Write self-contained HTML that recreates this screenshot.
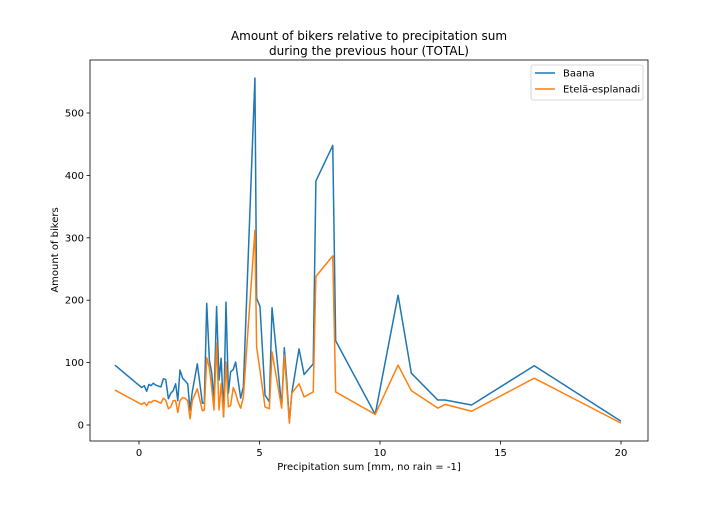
<!DOCTYPE html>
<html><head><meta charset="utf-8"><style>
body{margin:0;background:#fff;}
svg{font-family:"DejaVu Sans","Liberation Sans",sans-serif;}
</style></head><body>
<svg id="chart" width="720" height="504" xmlns="http://www.w3.org/2000/svg">
<rect width="720" height="504" fill="#fff"/>
<text x="369" y="40" text-anchor="middle" font-size="12">Amount of bikers relative to precipitation sum</text>
<text x="369" y="55" text-anchor="middle" font-size="12">during the previous hour (TOTAL)</text>
<g id="plot"></g>
<text x="369" y="470" text-anchor="middle" font-size="10">Precipitation sum [mm, no rain = -1]</text>
<text transform="translate(58,250) rotate(-90)" text-anchor="middle" font-size="10">Amount of bikers</text>
</svg>
<script>
const xs=[-1,0.11,0.22,0.32,0.41,0.5,0.59,0.69,0.91,1.01,1.11,1.22,1.32,1.42,1.52,1.61,1.7,1.81,1.91,2.02,2.12,2.21,2.42,2.63,2.71,2.81,2.92,3.02,3.11,3.22,3.32,3.41,3.51,3.61,3.71,3.8,3.91,4.01,4.11,4.22,4.33,4.81,4.88,5.02,5.23,5.41,5.52,5.92,6.03,6.13,6.24,6.34,6.64,6.85,7.23,7.34,8.04,8.16,9.8,10.75,11.3,12.4,12.7,13.8,16.4,20];
const baana=[96,60,63,54,65,63,67,64,61,74,73,42,51,55,66,39,88,75,71,66,24,53,98,35,35,195,104,83,37,190,72,107,13,197,51,85,89,101,72,43,61,556,203,190,48,37,188,29,124,72,5,51,122,81,98,391,448,135,17,208,83,40,40,32,95,6];
const etela=[56,33,36,31,37,36,39,39,35,43,40,26,29,39,39,20,39,44,43,39,10,39,58,23,24,108,91,59,24,131,24,66,13,101,29,31,60,51,37,27,45,312,125,88,29,26,117,27,112,61,3,51,66,45,53,238,271,53,17,96,55,27,33,22,75,3];
const xTicks=[0,5,10,15,20];
const yTicks=[0,100,200,300,400,500];
const L=90,R=648,T=60,B=441;
function X(v){return 139+v*24.1;}
function Y(v){return 425-v*0.624;}
const NS="http://www.w3.org/2000/svg";
const g=document.getElementById('plot');
function mk(t,a){const e=document.createElementNS(NS,t);for(const k in a)e.setAttribute(k,a[k]);g.appendChild(e);return e;}
function line(ys,color,name){
  const p=mk('polyline',{points:xs.map((x,i)=>X(x).toFixed(2)+','+Y(ys[i]).toFixed(2)).join(' '),fill:'none',stroke:color,'stroke-width':1.5,'stroke-linejoin':'round'});
  
  
}
line(baana,'#1f77b4','series-baana');
line(etela,'#ff7f0e','series-etela-esplanadi');
const frame=mk('rect',{x:L,y:T,width:R-L,height:B-T,fill:'none',stroke:'#000','stroke-width':0.8});


xTicks.forEach(v=>{
  const t=mk('line',{x1:X(v),x2:X(v),y1:B,y2:B+3.5,stroke:'#000','stroke-width':0.8});
  
  
  const l=mk('text',{x:X(v),y:B+15,'text-anchor':'middle','font-size':10});
  l.textContent=v;
  
  
});
yTicks.forEach(v=>{
  const t=mk('line',{x1:L-3.5,x2:L,y1:Y(v),y2:Y(v),stroke:'#000','stroke-width':0.8});
  
  
  const l=mk('text',{x:L-6,y:Y(v)+3.5,'text-anchor':'end','font-size':10});
  l.textContent=v;
  
  
});
const lg=mk('rect',{x:531,y:65,width:112,height:35,rx:2,fill:'#fff',stroke:'#ccc','stroke-width':0.8});


[['Baana','#1f77b4',73],['Etelä-esplanadi','#ff7f0e',89]].forEach(([n,c,y])=>{
  const s=mk('line',{x1:535,x2:555,y1:y,y2:y,stroke:c,'stroke-width':1.5});
  
  
  const t=mk('text',{x:563,y:y+3.5,'font-size':10});
  t.textContent=n;
  
  
});
</script>
</body></html>
